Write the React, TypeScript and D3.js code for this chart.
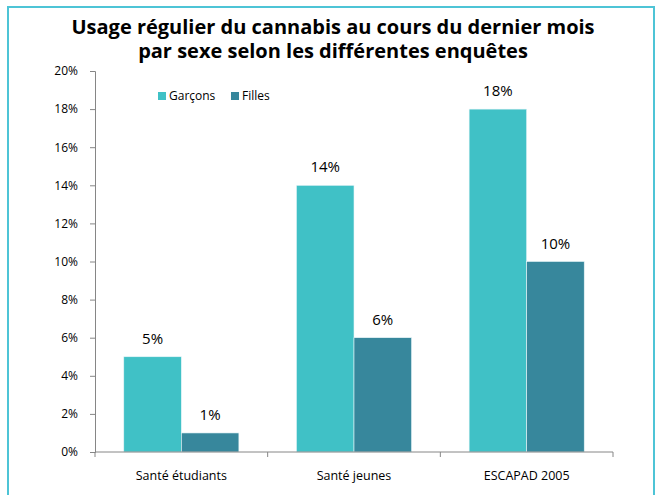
import * as d3 from "d3";
import React, { useEffect, useRef } from "react";

const categories = ["Santé étudiants", "Santé jeunes", "ESCAPAD 2005"];
const series = ["Garçons", "Filles"];
const garcons = [0.05, 0.14, 0.18];
const filles = [0.01, 0.06, 0.1];
const yTicks = [0, 0.02, 0.04, 0.06, 0.08, 0.1, 0.12, 0.14, 0.16, 0.18, 0.2];
const titleLines = [
  "Usage régulier du cannabis au cours du dernier mois",
  "par sexe selon les différentes enquêtes",
];

const colors = ["#40c1c6", "#37879c"];
const font = "'Open Sans', sans-serif";

export default function App() {
  const ref = useRef<SVGSVGElement>(null);

  useEffect(() => {
    const svg = d3.select(ref.current);
    svg.selectAll("*").remove();

    const left = 95,
      right = 613,
      top = 71,
      bottom = 452;

    // cadre
    svg
      .append("rect")
      .attr("x", 8)
      .attr("y", 7)
      .attr("width", 646)
      .attr("height", 520)
      .attr("fill", "white")
      .attr("stroke", "#4dc4d6")
      .attr("stroke-width", 2);

    // titre (un seul texte, deux lignes)
    svg
      .append("text")
      .attr("text-anchor", "middle")
      .attr("font-family", font)
      .attr("font-weight", "bold")
      .attr("font-size", "20px")
      .attr("fill", "#000")
      .selectAll("tspan")
      .data(titleLines)
      .enter()
      .append("tspan")
      .attr("x", 333)
      .attr("y", (d, i) => 34 + i * 24)
      .text((d) => d);

    const x0 = d3.scaleBand().domain(categories).range([left, right]);
    const x1 = d3
      .scaleBand()
      .domain(series)
      .range([0, x0.bandwidth()])
      .paddingOuter(0.5);
    const y = d3.scaleLinear().domain([0, 0.2]).range([bottom, top]);

    // axe y
    const yAxis = d3
      .axisLeft(y)
      .tickValues(yTicks)
      .tickSize(5)
      .tickPadding(12)
      .tickFormat(d3.format(".0%"));
    const gy = svg
      .append("g")
      .attr("transform", "translate(" + left + ",0)")
      .call(yAxis);
    gy.select(".domain").attr("stroke", "#868686");
    gy.selectAll(".tick line").attr("stroke", "#868686");
    gy.selectAll("text")
      .attr("font-family", font)
      .attr("font-size", "12px")
      .attr("fill", "#000");

    // barres
    const data = [garcons, filles];
    const groups = svg
      .append("g")
      .selectAll("g")
      .data(series)
      .enter()
      .append("g")
      .attr("fill", (d, i) => colors[i]);

    groups
      .selectAll("rect")
      .data((s, si) => data[si].map((v, ci) => ({ s, v, c: categories[ci] })))
      .enter()
      .append("rect")
      .attr("x", (d) => (x0(d.c) as number) + (x1(d.s) as number))
      .attr("y", (d) => y(d.v))
      .attr("width", x1.bandwidth())
      .attr("height", (d) => bottom - y(d.v))
      .attr("stroke", "#e8f6f8")
      .attr("stroke-width", 0.6);

    groups
      .selectAll("text")
      .data((s, si) => data[si].map((v, ci) => ({ s, v, c: categories[ci] })))
      .enter()
      .append("text")
      .attr("x", (d) => (x0(d.c) as number) + (x1(d.s) as number) + x1.bandwidth() / 2)
      .attr("y", (d) => y(d.v) - 13)
      .attr("text-anchor", "middle")
      .attr("font-family", font)
      .attr("font-size", "15px")
      .attr("fill", "#000")
      .text((d) => d3.format(".0%")(d.v));

    // axe x
    const gx = svg.append("g");
    gx.append("line")
      .attr("x1", left)
      .attr("x2", right)
      .attr("y1", bottom)
      .attr("y2", bottom)
      .attr("stroke", "#868686");
    const bounds = categories.map((c) => x0(c) as number).concat([right]);
    gx.selectAll(".tk")
      .data(bounds)
      .enter()
      .append("line")
      .attr("x1", (d) => d)
      .attr("x2", (d) => d)
      .attr("y1", bottom)
      .attr("y2", bottom + 5)
      .attr("stroke", "#868686");
    gx.selectAll("text")
      .data(categories)
      .enter()
      .append("text")
      .attr("x", (d) => (x0(d) as number) + x0.bandwidth() / 2)
      .attr("y", 480)
      .attr("text-anchor", "middle")
      .attr("font-family", font)
      .attr("font-size", "12.5px")
      .attr("fill", "#000")
      .text((d) => d);

    // légende
    const legend = svg
      .append("g")
      .selectAll("g")
      .data(series)
      .enter()
      .append("g")
      .attr("transform", (d, i) => "translate(" + [158, 231][i] + ",92)");
    legend
      .append("rect")
      .attr("width", 8)
      .attr("height", 8)
      .attr("fill", (d, i) => colors[i]);
    legend
      .append("text")
      .attr("x", 11)
      .attr("y", 8)
      .attr("font-family", font)
      .attr("font-size", "12px")
      .attr("fill", "#000")
      .text((d) => d);
  }, []);

  return (
    <svg
      ref={ref}
      width={664}
      height={495}
      style={{ position: "absolute", left: 0, top: 0, display: "block" }}
    />
  );
}
